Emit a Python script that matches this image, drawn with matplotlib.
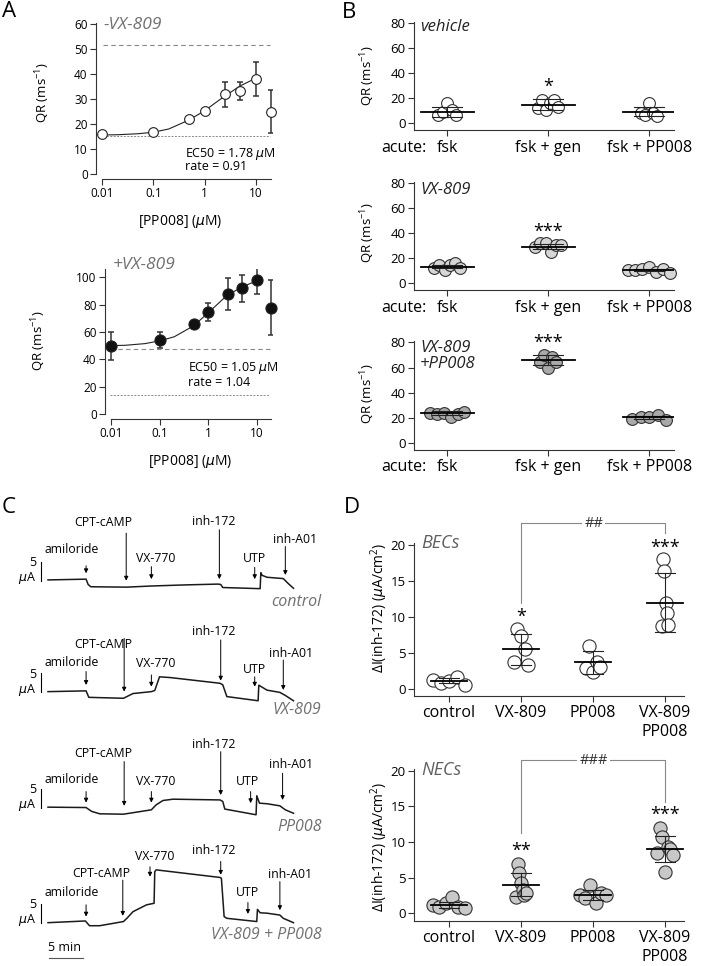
import numpy as np
import matplotlib.pyplot as plt
from matplotlib.ticker import NullLocator

plt.rcParams['font.family'] = ['Open Sans', 'DejaVu Sans']
plt.rcParams['mathtext.default'] = 'regular'

# ---------------- data ----------------
# A: QR vs [PP008]
conc = [0.01, 0.1, 0.5, 1, 2.5, 5, 10, 20]
qr_minus = [15.9, 16.8, 21.9, 25.2, 31.9, 33.3, 38.1, 24.8]
qr_minus_err = [0, 0, 0, 0, 5.0, 3.6, 6.8, 8.6]
qr_plus = [49.8, 54.1, 65.6, 74.8, 87.6, 92.0, 97.8, 77.8]
qr_plus_err = [10.0, 6.0, 0, 6.5, 11.7, 10.0, 10.0, 20.0]
fit_conc = [0.01, 0.02, 0.05, 0.1, 0.2, 0.5, 1, 2, 2.5, 5, 10]
fit_minus = [15.6, 15.7, 16.1, 16.7, 18.0, 21.6, 25.3, 29.8, 31.2, 35.3, 38.3]
fit_plus = [50.0, 50.3, 51.5, 53.5, 56.5, 64.5, 74.0, 84.0, 87.0, 93.0, 97.5]
ref_minus = [51.5, 15.0]
ref_plus = [47.3, 13.7]

# B: QR, acute treatments
acute = ['fsk', 'fsk + gen', 'fsk + PP008']
qr_vehicle = [[6.5, 9.0, 16.5, 11.0, 6.5],
              [12.0, 18.7, 10.5, 16.0, 18.7, 13.3],
              [8.0, 6.5, 16.0, 8.0, 5.5]]
qr_vehicle_mean = [9.3, 14.7, 9.3]
qr_vehicle_sd = [4.0, 4.4, 3.4]
qr_vx = [[12.0, 14.7, 10.7, 14.7, 16.0, 12.0],
         [29.3, 32.0, 32.0, 25.3, 30.7, 30.7],
         [10.7, 10.7, 11.2, 12.8, 9.3, 11.2, 8.5]]
qr_vx_mean = [13.3, 29.3, 10.7]
qr_vx_sd = [1.5, 2.0, 1.0]
qr_vxpp = [[24.3, 23.2, 24.3, 21.1, 23.5, 25.0],
           [64.6, 70.0, 59.4, 68.6, 64.6],
           [19.3, 20.6, 20.6, 22.4, 18.5]]
qr_vxpp_mean = [23.7, 66.0, 20.6]
qr_vxpp_sd = [1.5, 3.7, 1.2]

# C: Ussing chamber traces (min, uA relative to start)
trace_names = ['control', 'VX-809', 'PP008', 'VX-809 + PP008']
drugs = ['amiloride', 'CPT-cAMP', 'VX-770', 'inh-172', 'UTP', 'inh-A01']
t_control = [0, 5.6, 5.9, 6.3, 11.6, 15.2, 20.4, 25.0, 25.4, 25.7, 31.2, 31.3, 31.5, 32.2, 34.6, 35.3, 36.1]
i_control = [0, 0.2, -1.2, -1.8, -1.9, -1.6, -1.3, -1.1, -1.2, -2.0, -2.3, 1.9, 1.2, 0.7, 0.35, -0.9, -2.2]
t_vx = [0, 5.6, 6.0, 11.1, 12.5, 15.2, 15.7, 16.4, 18.0, 25.3, 25.7, 26.3, 30.9, 31.0, 32.2, 34.1, 34.9, 36.1]
i_vx = [0, 0.2, -1.5, -1.75, -0.5, 0, 0.3, 3.9, 3.7, 2.2, 1.8, -1.3, -2.4, 1.7, 0.4, -0.2, -1.0, -2.4]
t_pp = [0, 5.6, 6.4, 7.6, 11.1, 15.2, 15.9, 16.9, 18.4, 25.3, 25.7, 26.0, 30.6, 30.7, 31.1, 32.2, 34.1, 34.9, 36.1]
i_pp = [0, -0.1, -1.1, -1.75, -1.85, -0.7, 0.6, 1.75, 2.1, 1.9, 1.5, -0.5, -2.0, 3.0, 1.05, 0.9, 0.35, -0.7, -1.6]
t_vxpp = [0, 5.5, 6.1, 7.6, 11.1, 11.6, 12.5, 14.5, 15.6, 15.7, 15.9, 25.3, 25.5, 25.9, 26.3, 30.7, 30.8, 31.2, 32.2, 34.1, 34.6, 36.1]
i_vxpp = [-0.1, 0.35, -0.9, -0.9, 0.2, 1.05, 2.8, 4.6, 5.0, 13.3, 13.8, 11.8, 11.6, 1.5, 1.05, 0.2, 3.4, 2.5, 2.4, 1.9, 1.05, -0.1]

# D: delta I(inh-172)
groups_d = ['control', 'VX-809', 'PP008', 'VX-809\nPP008']
bec = [[1.3, 0.9, 1.1, 1.7, 0.6],
       [3.7, 8.3, 7.3, 5.6, 3.4],
       [2.9, 6.0, 2.4, 3.7, 3.1],
       [8.8, 18.1, 16.4, 12.0, 10.6, 8.9]]
bec_mean = [1.15, 5.5, 3.7, 12.0]
bec_sd = [0.35, 2.2, 1.6, 4.1]
nec = [[1.2, 0.9, 1.4, 2.3, 0.9, 0.7],
       [2.3, 6.9, 5.6, 4.2, 3.3, 2.6, 2.8],
       [2.6, 2.2, 4.0, 1.4, 2.8, 2.6],
       [8.4, 11.9, 10.7, 5.8, 9.3, 9.0, 8.2]]
nec_mean = [1.2, 4.0, 2.5, 9.0]
nec_sd = [0.45, 1.6, 0.7, 1.8]

# ---------------- layout helpers ----------------
W, H = 708, 966
fig = plt.figure(figsize=(W / 100, H / 100), dpi=100)
GRAY = '#333333'
LABG = '#707070'


def axes_px(x0, y0, x1, y1):
    return fig.add_axes([x0 / W, 1 - y1 / H, (x1 - x0) / W, (y1 - y0) / H])


def text_px(x, y, s, **kw):
    fig.text(x / W, 1 - y / H, s, **kw)


def style(ax, ysize=9):
    for sp in ('top', 'right'):
        ax.spines[sp].set_visible(False)
    for sp in ('left', 'bottom'):
        ax.spines[sp].set_color(GRAY)
        ax.spines[sp].set_linewidth(0.8)
    ax.tick_params(direction='out', length=4, width=0.8, color=GRAY, labelsize=ysize, pad=2)
    ax.patch.set_alpha(0)


def strip(ax, groups, means, sds, spreads, fc, ms, mw, cw):
    for k, vals in enumerate(groups):
        xs = k + np.linspace(-spreads[k], spreads[k], len(vals))
        ax.plot(xs, vals, 'o', ms=ms, mfc=fc, mec=GRAY, mew=0.8, zorder=3, clip_on=False)
        m, s = means[k], sds[k]
        ax.plot([k - mw, k + mw], [m, m], color='k', lw=1.3, zorder=5)
        ax.plot([k, k], [m - s, m + s], color='#222', lw=0.8, zorder=4)
        for yy in (m - s, m + s):
            ax.plot([k - cw, k + cw], [yy, yy], color='#222', lw=0.8, zorder=4)


def star(ax, x, y, s, fs=13):
    ax.annotate(s, xy=(x, y), xytext=(0, -0.55 * fs), textcoords='offset points',
                ha='center', va='baseline', fontsize=fs, annotation_clip=False)


# ---------------- panel A ----------------
def panel_a(box, xl, ylim, yticks, y, err, fit, refs, fc, ms, ref_from):
    ax = axes_px(*box)
    style(ax, 8.5)
    ax.set_xscale('log')
    ax.set_xlim(*xl)
    ax.set_ylim(*ylim)
    ax.spines['bottom'].set_position(('outward', 3.6))
    ax.spines['bottom'].set_bounds(0.01, 20)
    ax.set_xticks([0.01, 0.1, 1, 10])
    ax.set_xticklabels(['0.01', '0.1', '1', '10'])
    ax.xaxis.set_minor_locator(NullLocator())
    ax.set_yticks(yticks)
    ax.axhline(refs[0], xmin=ref_from, xmax=0.989, ls=(0, (4, 3)), color='#888', lw=0.8)
    ax.axhline(refs[1], xmin=ref_from, xmax=0.989, ls=(0, (2, 1.5)), color='#888', lw=0.7)
    ax.plot(fit_conc, fit, color='#222', lw=0.8)
    ax.errorbar(conc, y, yerr=err, fmt='none', ecolor='#333', elinewidth=1.1,
                capsize=2.5, capthick=1.1, zorder=3)
    ax.plot(conc, y, 'o', ms=ms, mfc=fc, mec='#222', mew=0.8, zorder=4, clip_on=False)
    return ax


panel_a((96, 22.7, 272, 174), (10 ** -2.117, 10 ** 1.314), (0, 60.5), range(0, 61, 10),
        qr_minus, qr_minus_err, fit_minus, ref_minus, 'white', 7, 0.04)
panel_a((105, 269, 272, 414), (10 ** -2.1235, 10 ** 1.3128), (0, 106.1), range(0, 101, 20),
        qr_plus, qr_plus_err, fit_plus, ref_plus, '#111111', 8, 0.03)

mu = r'$\mathit{\mu}$'
text_px(104, 25, '-VX-809', fontsize=12.5, style='italic', color=LABG, va='center')
text_px(185, 154, 'EC50 = 1.78 ' + mu + 'M', fontsize=9, va='center')
text_px(185, 167, 'rate = 0.91', fontsize=9, va='center')
text_px(43, 93, 'QR (ms$^{-1}$)', fontsize=9.5, rotation=90, ha='center', va='center')
text_px(180, 221, '[PP008] (' + mu + 'M)', fontsize=10, ha='center', va='center')

text_px(113, 265, '+VX-809', fontsize=12.5, style='italic', color=LABG, va='center')
text_px(188, 368, 'EC50 = 1.05 ' + mu + 'M', fontsize=9, va='center')
text_px(188, 383, 'rate = 1.04', fontsize=9, va='center')
text_px(39, 341, 'QR (ms$^{-1}$)', fontsize=9.5, rotation=90, ha='center', va='center')
text_px(190, 461, '[PP008] (' + mu + 'M)', fontsize=10, ha='center', va='center')

# ---------------- panel B ----------------
b_panels = [
    ((414, 22, 674, 130), (-5.4, 81), qr_vehicle, qr_vehicle_mean, qr_vehicle_sd,
     [0.09, 0.1, 0.08], 'white', -19.8, ['vehicle'], 27, 76, 33.3, '*'),
    ((414, 182, 674, 290), (-5.4, 81), qr_vx, qr_vx_mean, qr_vx_sd,
     [0.13, 0.13, 0.21], '#d6d6d6', -19.8, ['VX-809'], 190, 233, 45.3, '***'),
    ((414, 341, 674, 450), (-5.3, 81), qr_vxpp, qr_vxpp_mean, qr_vxpp_sd,
     [0.17, 0.08, 0.17], '#a9a9a9', -18.5, ['VX-809', '+PP008'], 347.5, 394, 83.2, '***'),
]
for box, yl, grp, mn, sd, spr, fc, laby, cond, cy, ly, sy, st in b_panels:
    ax = axes_px(*box)
    style(ax, 9.5)
    ax.set_xlim(-0.33, 2.245)
    ax.set_ylim(*yl)
    ax.set_yticks(range(0, 81, 20))
    ax.set_xticks(range(3))
    ax.set_xticklabels([])
    strip(ax, grp, mn, sd, spr, fc, 8.5, 0.26, 0.15)
    for k, lab in enumerate(acute):
        ax.text(k, laby, lab, ha='center', va='center', fontsize=11.5, clip_on=False)
    ax.text(-0.657, laby, 'acute:', ha='left', va='center', fontsize=11.5, clip_on=False)
    star(ax, 1, sy, st)
    for j, c in enumerate(cond):
        text_px(420, cy + 16.5 * j, c, fontsize=12, style='italic', color='#222', va='center')
    text_px(368, ly, 'QR (ms$^{-1}$)', fontsize=9.5, rotation=90, ha='center', va='center')

# ---------------- panel C ----------------
trace_t = [t_control, t_vx, t_pp, t_vxpp]
trace_i = [i_control, i_vx, i_pp, i_vxpp]
trace_base = [101.6, 72.2, 41.8, 11.5]
cond_dy = [-5.7, -4.8, -5.1, -3.3]
arrow_t = [[5.6, 11.5, 15.2, 25.2, 30.4, 34.9],
           [5.6, 11.2, 15.2, 25.4, 30.4, 34.6],
           [5.6, 11.2, 15.2, 25.4, 29.8, 34.5],
           [5.6, 11.0, 15.0, 25.4, 29.4, 34.1]]
arrow_tip = [[1.75, -0.2, 0.2, 0.2, 0.2, 1.3],
             [1.75, 0.0, 1.3, 2.9, 1.3, 0.45],
             [1.2, 0.35, 1.2, 3.2, 1.05, 1.9],
             [1.5, 1.7, 12.0, 12.5, 2.2, 3.2]]
arrow_top = [[3.7, 12.3, 3.5, 13.2, 3.3, 8.8],
             [5.3, 14.0, 4.4, 13.6, 3.9, 8.3],
             [4.1, 12.0, 4.1, 14.6, 4.1, 8.9],
             [4.6, 11.1, 14.6, 16.0, 5.2, 10.7]]
label_t = [[3.5, 8.1, 15.9, 24.3, 30.4, 36.3],
           [3.5, 8.1, 15.9, 24.3, 30.4, 35.8],
           [3.5, 8.1, 15.9, 24.3, 29.4, 35.8],
           [3.5, 7.8, 15.7, 24.3, 29.4, 35.6]]
label_i = [[7.9, 15.2, 5.7, 15.5, 5.7, 10.7],
           [7.6, 12.5, 7.5, 15.8, 5.7, 10.1],
           [7.4, 14.2, 6.8, 16.4, 6.8, 11.1],
           [7.8, 12.9, 17.4, 18.9, 7.8, 12.7]]

axc = axes_px(0, 490, 354, 966)
axc.set_xlim(-48 / 6.8, (354 - 48) / 6.8)
axc.set_ylim(0, 476 / 3.8)
axc.axis('off')
for k in range(4):
    b = trace_base[k]
    axc.plot(trace_t[k], np.array(trace_i[k]) + b, color='#1a1a1a', lw=1.1)
    for j, lab in enumerate(drugs):
        axc.annotate('', xy=(arrow_t[k][j], b + arrow_tip[k][j]),
                     xytext=(arrow_t[k][j], b + arrow_top[k][j]),
                     arrowprops=dict(arrowstyle='-|>', color='k', lw=0.7,
                                     mutation_scale=6, shrinkA=0, shrinkB=0))
        axc.text(label_t[k][j], b + label_i[k][j], lab, ha='center', va='center', fontsize=8.8)
    axc.plot([-1.07, -1.07], [b - 0.2, b + 4.8], color='k', lw=0.8)
    axc.text(-1.7, b + 4.6, '5', ha='right', va='center', fontsize=9)
    axc.text(-1.7, b + 0.5, mu + 'A', ha='right', va='center', fontsize=9)
    axc.text(40.25, b + cond_dy[k], trace_names[k], ha='right', va='center',
             fontsize=11.5, style='italic', color=LABG)
axc.plot([0.2, 5.2], [2.1, 2.1], color='#555', lw=0.8)
axc.text(2.5, 4.8, '5 min', ha='center', va='center', fontsize=9)

# ---------------- panel D ----------------
d_panels = [
    ((414, 543, 684, 696), (-0.97, 20.28), bec, bec_mean, bec_sd, [0.22, 0.1, 0.1, 0.04],
     'white', (-3.4, -5.97), 'BECs', 543, 608, (10.7, 20.3), ('*', '***'),
     (11.9, 23.0, 21.6), '##'),
    ((414, 769, 684, 921), (-1.08, 20.24), nec, nec_mean, nec_sd, [0.22, 0.07, 0.18, 0.11],
     '#c8c8c8', (-3.53, -6.13), 'NECs', 770, 847, (9.4, 14.5), ('**', '***'),
     (11.3, 21.5, 15.6), '###'),
]
for box, yl, grp, mn, sd, spr, fc, laby, cond, cy, ly, sy, st, br, hs in d_panels:
    ax = axes_px(*box)
    style(ax, 9.5)
    ax.set_xlim(-0.486, 3.264)
    ax.set_ylim(*yl)
    ax.set_yticks(range(0, 21, 5))
    ax.set_xticks(range(4))
    ax.set_xticklabels([])
    strip(ax, grp, mn, sd, spr, fc, 9.5, 0.25, 0.14)
    for k, lab in enumerate(groups_d):
        lines = lab.split('\n')
        for j, ln in enumerate(lines):
            ax.text(k, laby[j], ln, ha='center', va='center', fontsize=11.5, clip_on=False)
    star(ax, 1, sy[0], st[0])
    star(ax, 3, sy[1], st[1])
    ax.plot([1, 1, 3, 3], [br[0], br[1], br[1], br[2]], color='#888', lw=0.8, clip_on=False)
    ax.text(2.01, br[1], hs, ha='center', va='center', fontsize=10.5, color='#333',
            bbox=dict(fc='white', ec='none', pad=1.5), clip_on=False)
    text_px(421, cy, cond, fontsize=13, style='italic', color='#606060', va='center')
    text_px(379, ly, r'$\Delta$I(inh-172) (' + mu + 'A/cm$^{2}$)', fontsize=10,
            rotation=90, ha='center', va='center')

# panel letters
text_px(2, 17, 'A', fontsize=16, va='baseline')
text_px(342, 18, 'B', fontsize=16, va='baseline')
text_px(2, 513, 'C', fontsize=16, va='baseline')
text_px(344, 513, 'D', fontsize=16, va='baseline')

fig.savefig('out.png', dpi=100, facecolor='white')
